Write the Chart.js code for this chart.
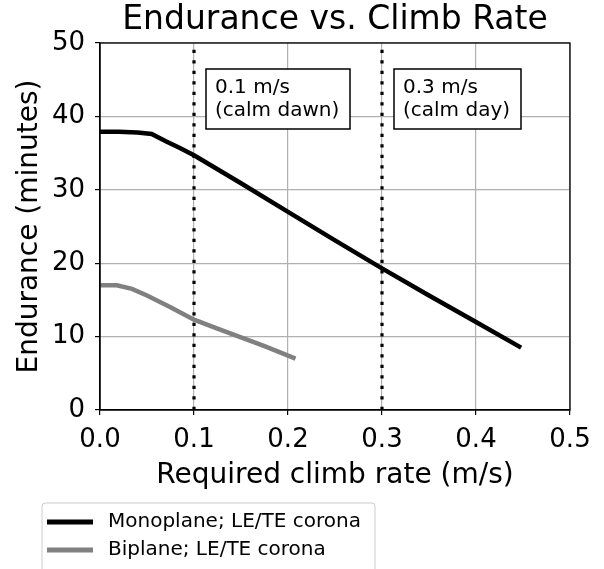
<!DOCTYPE html>
<html>
<head>
<meta charset="utf-8">
<script src="https://cdn.jsdelivr.net/npm/chart.js@4.4.0/dist/chart.umd.min.js"></script>
<style>
  html, body { margin: 0; padding: 0; background: #fff; }
  #wrap { width: 604px; height: 569px; }
</style>
</head>
<body>
<div id="wrap"><canvas id="chart" width="604" height="569"></canvas></div>
<script>
// climb rate (m/s) vs endurance (minutes)
const monoX = [0.0, 0.02, 0.04, 0.055, 0.07, 0.085, 0.1, 0.15, 0.2, 0.25, 0.3, 0.35, 0.4, 0.448];
const monoY = [37.9, 37.9, 37.8, 37.6, 36.6, 35.7, 34.7, 30.9, 27.0, 23.1, 19.3, 15.6, 12.0, 8.5];
const biX = [0.0, 0.018, 0.034, 0.05, 0.075, 0.1, 0.125, 0.15, 0.175, 0.208];
const biY = [17.0, 17.0, 16.5, 15.6, 14.0, 12.3, 11.1, 9.9, 8.7, 7.0];
const refRates = [0.1, 0.3];
const refLabels = [["0.1 m/s", "(calm dawn)"], ["0.3 m/s", "(calm day)"]];
const xTicks = [0.0, 0.1, 0.2, 0.3, 0.4, 0.5];
const yTicks = [0, 10, 20, 30, 40, 50];

const FONT = "'DejaVu Sans', sans-serif";
const toPts = (xs, ys) => xs.map((x, i) => ({ x: x, y: ys[i] }));

const datasets = [
  { label: "Monoplane; LE/TE corona", data: toPts(monoX, monoY), borderColor: "#000000", borderWidth: 4.5 },
  { label: "Biplane; LE/TE corona", data: toPts(biX, biY), borderColor: "#808080", borderWidth: 4.5 },
];
refRates.forEach((r) => {
  datasets.push({
    label: "ref " + r,
    data: [{ x: r, y: 0 }, { x: r, y: 50 }],
    borderColor: "#000000",
    borderWidth: 3.2,
    borderDash: [3.2, 7.3],
    isRef: true,
  });
});

const extras = {
  id: "extras",
  afterDraw(chart) {
    const ctx = chart.ctx;
    const a = chart.chartArea;
    const xs = chart.scales.x;
    ctx.save();
    // frame
    ctx.strokeStyle = "#000";
    ctx.lineWidth = 1.3;
    ctx.strokeRect(a.left, a.top, a.right - a.left, a.bottom - a.top);

    // title + axis titles
    ctx.fillStyle = "#000";
    ctx.textAlign = "center";
    ctx.textBaseline = "alphabetic";
    ctx.font = "33px " + FONT;
    ctx.fillText("Endurance vs. Climb Rate", (a.left + a.right) / 2, 29);
    ctx.font = "28px " + FONT;
    ctx.fillText("Required climb rate (m/s)", (a.left + a.right) / 2, 483);
    ctx.save();
    ctx.translate(37, (a.top + a.bottom) / 2);
    ctx.rotate(-Math.PI / 2);
    ctx.fillText("Endurance (minutes)", 0, 0);
    ctx.restore();

    // annotation boxes
    ctx.font = "20px " + FONT;
    ctx.textAlign = "left";
    const boxW = [144, 127];
    refRates.forEach((r, i) => {
      const bx = xs.getPixelForValue(r) + 12;
      const by = 69;
      ctx.fillStyle = "#fff";
      ctx.fillRect(bx, by, boxW[i], 60);
      ctx.strokeStyle = "#000";
      ctx.lineWidth = 1.5;
      ctx.strokeRect(bx, by, boxW[i], 60);
      ctx.fillStyle = "#000";
      ctx.fillText(refLabels[i][0], bx + 9, by + 24);
      ctx.fillText(refLabels[i][1], bx + 9, by + 47);
    });

    // legend
    const lx = 42, ly = 503, lw = 333, lh = 70;
    ctx.strokeStyle = "#cccccc";
    ctx.lineWidth = 1;
    ctx.beginPath();
    if (ctx.roundRect) ctx.roundRect(lx, ly, lw, lh, 3); else ctx.rect(lx, ly, lw, lh);
    ctx.fillStyle = "#fff";
    ctx.fill();
    ctx.stroke();
    ctx.font = "20px " + FONT;
    ctx.textBaseline = "middle";
    datasets.filter((d) => !d.isRef).forEach((d, i) => {
      const cy = 522 + i * 28;
      ctx.strokeStyle = d.borderColor;
      ctx.lineWidth = 5;
      ctx.beginPath();
      ctx.moveTo(47, cy);
      ctx.lineTo(93, cy);
      ctx.stroke();
      ctx.fillStyle = "#000";
      ctx.fillText(d.label, 108, cy);
    });
    ctx.restore();
  },
};

new Chart(document.getElementById("chart"), {
  type: "line",
  data: { datasets: datasets },
  options: {
    responsive: false,
    animation: false,
    layout: { padding: { top: 43, right: 34, left: 0, bottom: 0 } },
    elements: { point: { radius: 0 }, line: { tension: 0 } },
    plugins: { legend: { display: false }, tooltip: { enabled: false } },
    scales: {
      x: {
        type: "linear",
        min: 0,
        max: 0.5,
        afterFit: (s) => { s.height = 159; },
        afterBuildTicks: (s) => { s.ticks = xTicks.map((v) => ({ value: v })); },
        grid: { color: "#b0b0b0", lineWidth: 1.2, tickLength: 5, tickColor: "#000" },
        border: { color: "#000", width: 1.3 },
        ticks: { font: { family: FONT, size: 26 }, color: "#000", padding: 10, maxRotation: 0,
          callback: (v) => v.toFixed(1) },
      },
      y: {
        type: "linear",
        min: 0,
        max: 50,
        afterFit: (s) => { s.width = 100; },
        afterBuildTicks: (s) => { s.ticks = yTicks.map((v) => ({ value: v })); },
        grid: { color: "#b0b0b0", lineWidth: 1.2, tickLength: 5, tickColor: "#000" },
        border: { color: "#000", width: 1.3 },
        ticks: { font: { family: FONT, size: 26 }, color: "#000", padding: 10,
          callback: (v) => String(v) },
      },
    },
  },
  plugins: [extras],
});
</script>
</body>
</html>
